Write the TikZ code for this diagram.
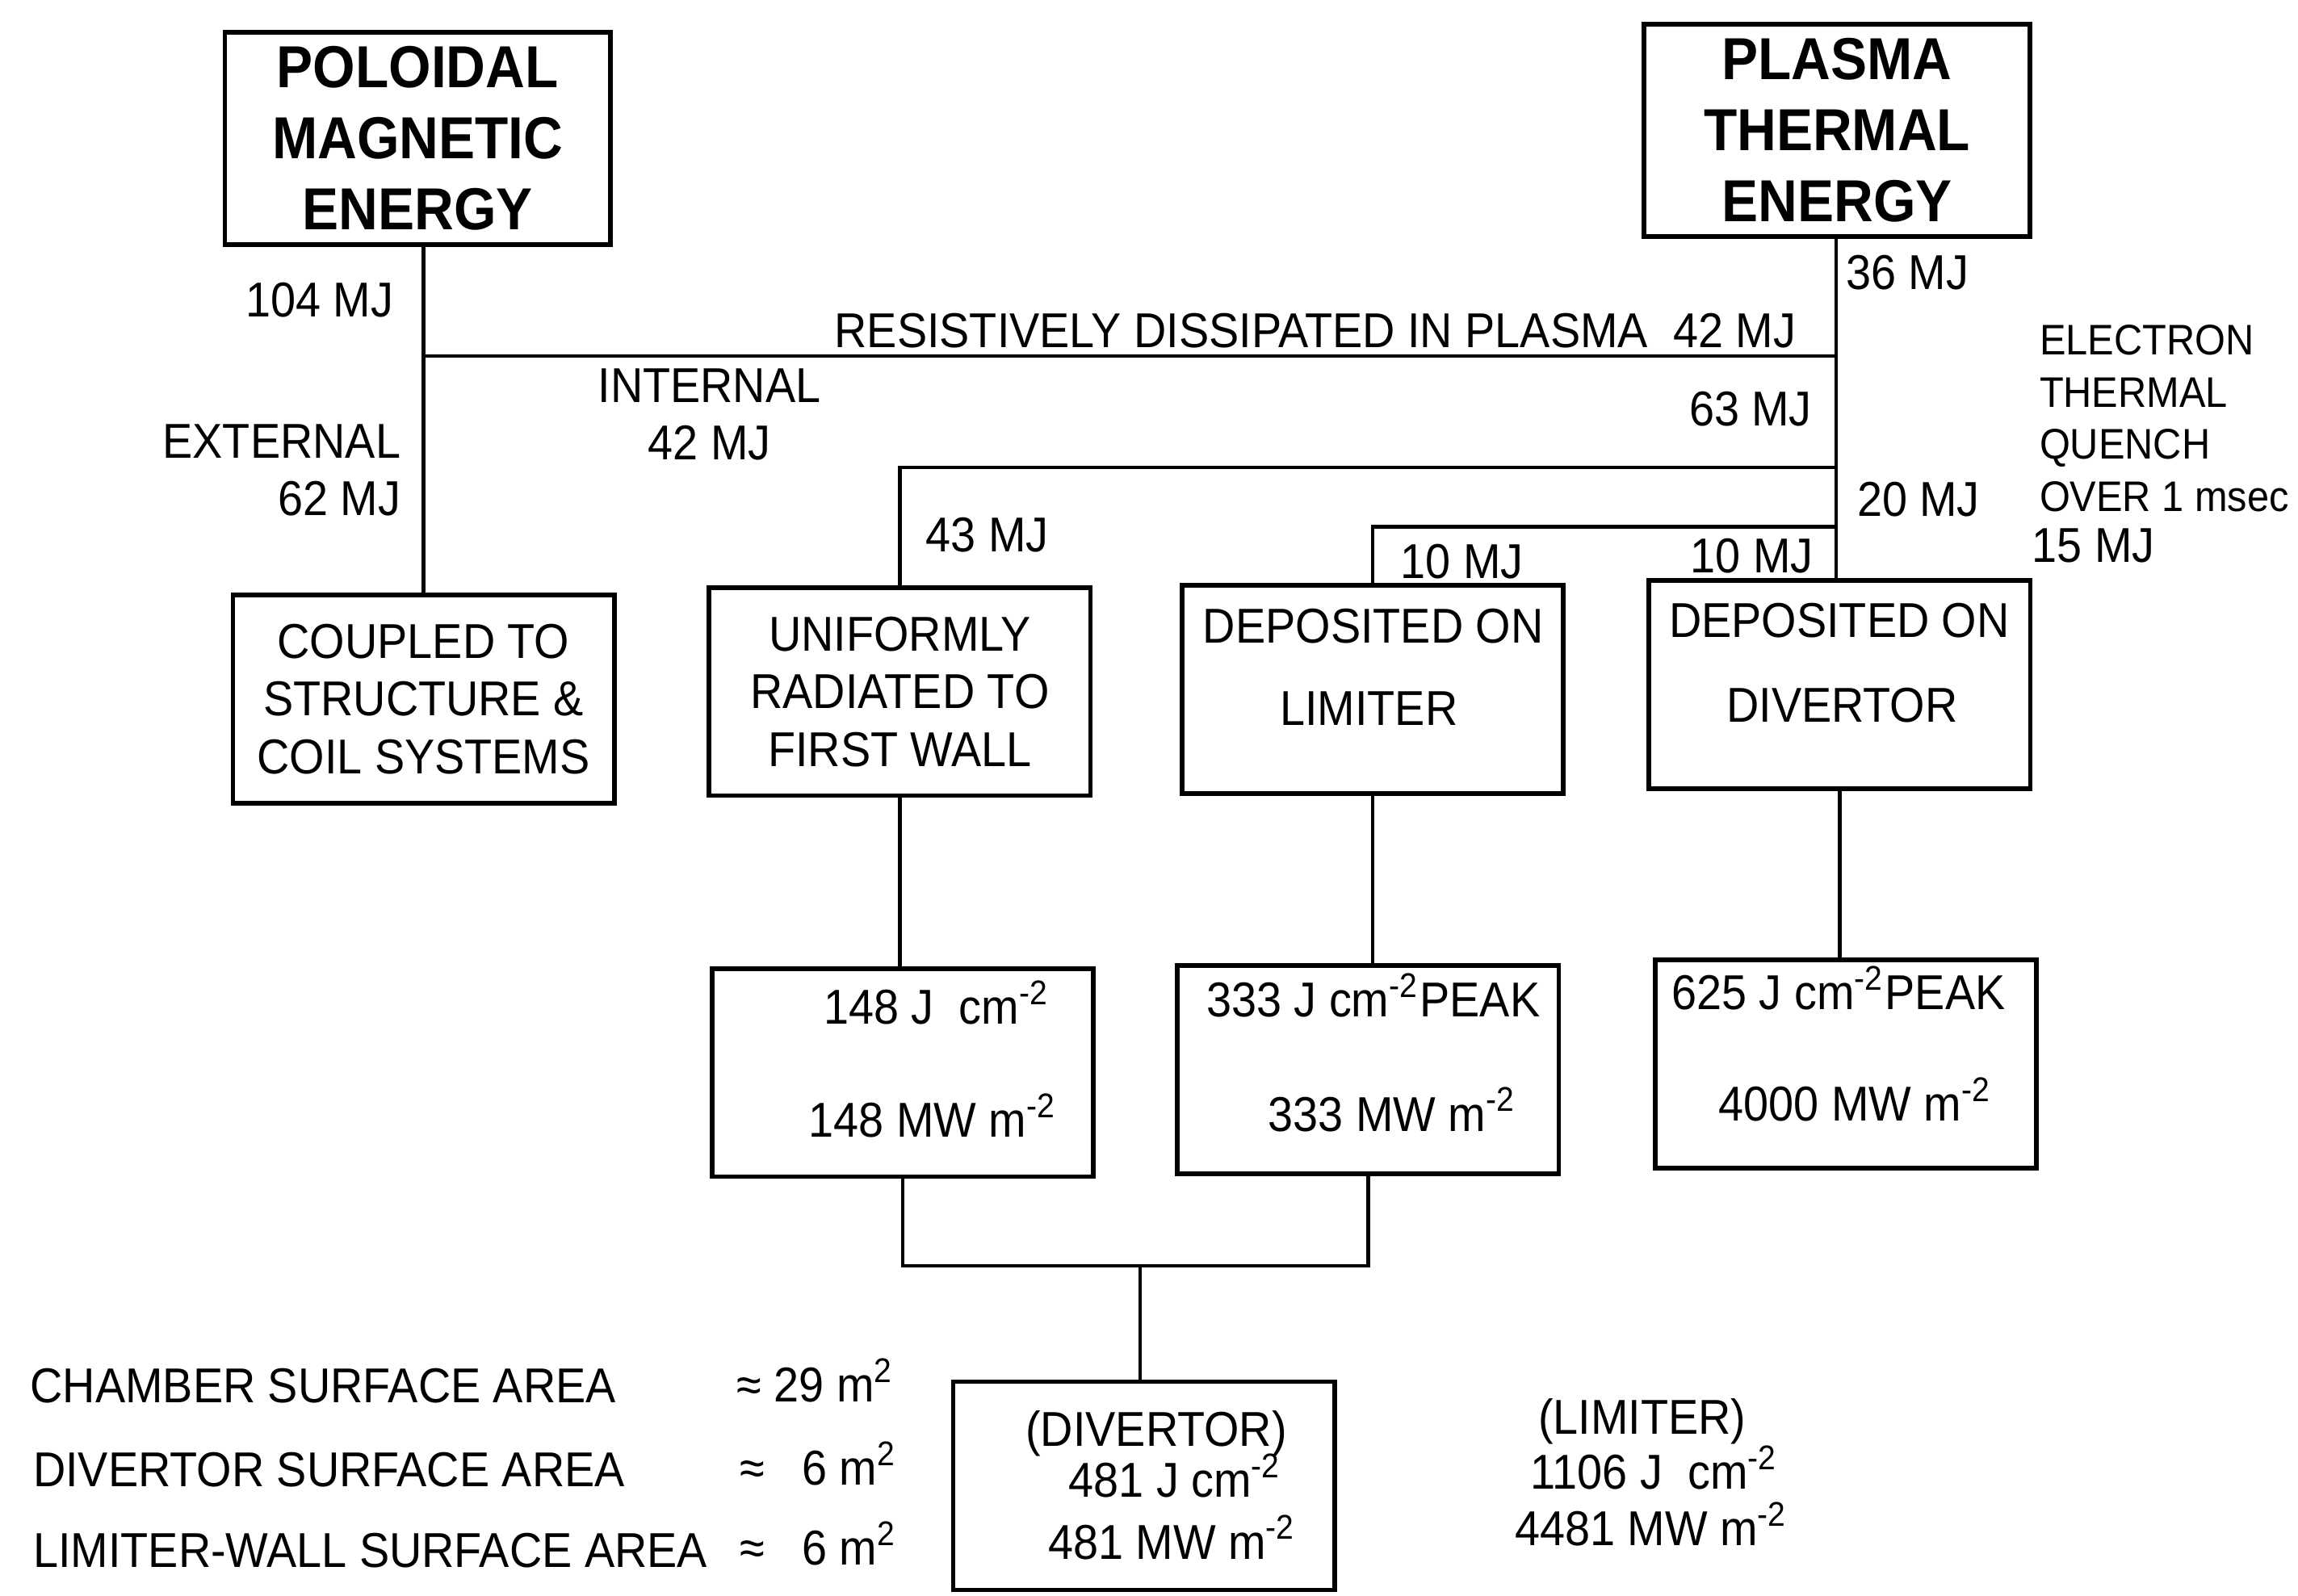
\documentclass[tikz,border=0pt]{standalone}
\usepackage{fontspec}
\setmainfont[FakeStretch=0.92]{Liberation Sans}
\usepackage{tikz}
\newcommand{\titlefont}{\fontsize{11.5}{13.8}\selectfont\bfseries}
\newcommand{\boxfont}{\fontsize{9.5}{11.2}\selectfont}
\newcommand{\quenchfont}{\fontsize{8.3}{10.1}\selectfont}
\newcommand{\msup}[1]{\textsuperscript{#1}}

\begin{document}
\begin{tikzpicture}[x=0.01cm, y=-0.01cm,
  ebox/.style={draw, line width=0.9pt, minimum width=2.6cm, minimum height=1.42cm, inner sep=0pt},
  titlebox/.style={ebox, minimum width=2.63cm, minimum height=1.45cm, align=center, font=\titlefont},
  txtbox/.style={ebox, align=center, font=\boxfont},
  lbl/.style={inner sep=0pt, font=\boxfont},
  wire/.style={line width=0.7pt}]
  \useasboundingbox (0,0) rectangle (1568,1089);

  % Energy sources
  \node[titlebox] (pol) at (285,94.5) {POLOIDAL\\MAGNETIC\\ENERGY};
  \node[titlebox] (pla) at (1253.5,89) {PLASMA\\THERMAL\\ENERGY};

  % Where it goes
  \node[txtbox] (cpl) at (289,477) {COUPLED TO\\STRUCTURE \&\\COIL SYSTEMS};
  \node[txtbox] (uni) at (614,472) {UNIFORMLY\\RADIATED TO\\FIRST WALL};
  \node[ebox] (lim) at (936.5,470.5) {};
  \node[lbl, anchor=base] (limtop) at (937,439) {DEPOSITED ON};
  \node[lbl, anchor=base] (limbot) at (934,495) {LIMITER};
  \node[ebox] (div) at (1255.3,467.3) {};
  \node[lbl, anchor=base] (divtop) at (1255,435) {DEPOSITED ON};
  \node[lbl, anchor=base] (divbot) at (1257,493) {DIVERTOR};

  % Surface loads
  \node[ebox] (wal) at (616,732) {};
  \node[lbl, anchor=base east] (walj) at (717,699) {148 J~~cm\msup{-2}};
  \node[lbl, anchor=base east] (walw) at (722,776) {148 MW m\msup{-2}};
  \node[ebox] (lmt) at (933.5,730) {};
  \node[lbl, anchor=base] (lmtj) at (937,694) {333 J cm\msup{-2}PEAK};
  \node[lbl, anchor=base] (lmtw) at (950,772) {333 MW m\msup{-2}};
  \node[ebox] (dvt) at (1259.5,726) {};
  \node[lbl, anchor=base] (dvtj) at (1254.5,689) {625 J cm\msup{-2}PEAK};
  \node[lbl, anchor=base] (dvtw) at (1266,765) {4000 MW m\msup{-2}};
  \node[ebox] (sum) at (780.5,1014) {};
  \node[lbl, anchor=base] (sumt) at (789,987) {(DIVERTOR)};
  \node[lbl, anchor=base] (sumj) at (802,1022) {481 J cm\msup{-2}};
  \node[lbl, anchor=base] (sumw) at (800,1064) {481 MW m\msup{-2}};

  % Junctions
  \coordinate (jpol) at (289,243);
  \coordinate (jres) at (1253,243);
  \coordinate (j63) at (1253,319);
  \coordinate (j20) at (1253,359.5);
  \coordinate (jsum) at (778,864);

  \draw[wire] (pol.south -| jpol) -- (jpol |- cpl.north);
  \draw[wire] (jpol) -- (jres);
  \draw[wire] (pla.south -| jres) -- (jres |- div.north);
  \draw[wire] (j63) -| (uni.north);
  \draw[wire] (j20) -| (lim.north);
  \draw[wire] (uni.south) -- (uni.south |- wal.north);
  \draw[wire] (lim.south) -- (lim.south |- lmt.north);
  \draw[wire] (div.south) -- (div.south |- dvt.north);
  \draw[wire] (wal.south) |- (jsum) -| (lmt.south);
  \draw[wire] (jsum) -- (jsum |- sum.north);

  % Flow labels
  \node[lbl, anchor=east] (l104) at (269,204.5) {104 MJ};
  \node[lbl, anchor=east, align=right] (lext) at (274,321) {EXTERNAL\\62 MJ};
  \node[lbl, align=center] (lint) at (484,283) {INTERNAL\\42 MJ};
  \node[lbl, anchor=base east] (lres) at (1226,237) {RESISTIVELY DISSIPATED IN PLASMA~~42 MJ};
  \node[lbl, anchor=west] (l36) at (1259,186) {36 MJ};
  \node[lbl, anchor=east] (l63) at (1237,279) {63 MJ};
  \node[lbl, anchor=west] (l43) at (631,365) {43 MJ};
  \node[lbl, anchor=west] (l20) at (1266.5,341) {20 MJ};
  \node[lbl, anchor=west] (l10a) at (955,383) {10 MJ};
  \node[lbl, anchor=east] (l10b) at (1238,379.5) {10 MJ};
  \node[lbl, anchor=west, align=left, font=\quenchfont] (lqch) at (1391,285.5) {ELECTRON\\THERMAL\\QUENCH\\OVER 1 msec};
  \node[lbl, anchor=west] (l15) at (1386,372.5) {15 MJ};

  % Limiter case
  \node[lbl, anchor=base] (limt) at (1120.5,979) {(LIMITER)};
  \node[lbl, anchor=base] (limj) at (1129,1016.5) {1106 J~~cm\msup{-2}};
  \node[lbl, anchor=base] (limw) at (1127,1055) {4481 MW m\msup{-2}};

  % Areas
  \node[lbl, anchor=west] (achm) at (20,946) {CHAMBER SURFACE AREA};
  \node[lbl, anchor=west] (adiv) at (22,1003) {DIVERTOR SURFACE AREA};
  \node[lbl, anchor=west] (alim) at (22,1058) {LIMITER-WALL SURFACE AREA};
  \node[lbl, anchor=base west] (vchm) at (502,957) {≈ 29 m\msup{2}};
  \node[lbl, anchor=base west] (vdiv) at (504,1013.5) {≈ \phantom{2}6 m\msup{2}};
  \node[lbl, anchor=base west] (vlim) at (504,1068) {≈ \phantom{2}6 m\msup{2}};
\end{tikzpicture}
\end{document}
